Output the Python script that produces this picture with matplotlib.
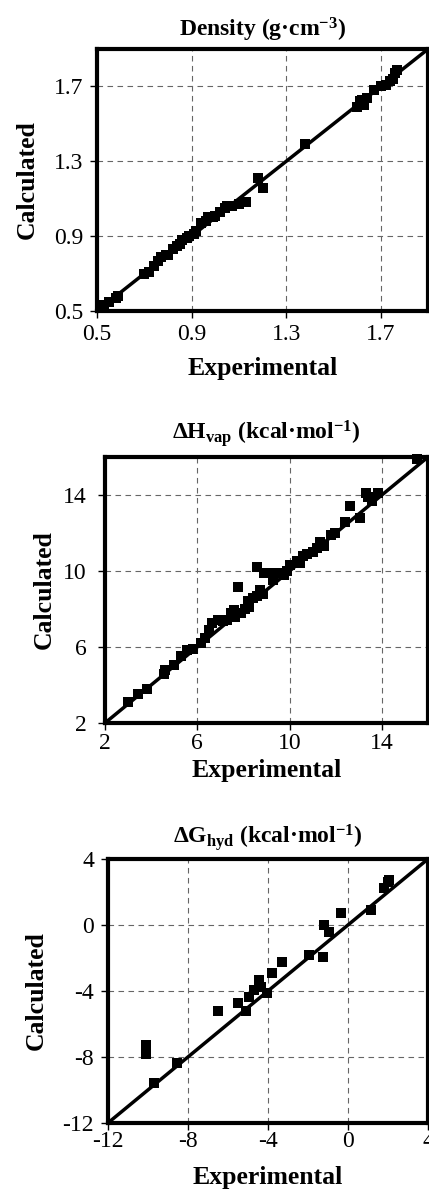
import numpy as np
import matplotlib
matplotlib.use("Agg")
import matplotlib.pyplot as plt

plt.rcParams['font.family'] = ['Liberation Serif', 'DejaVu Serif']
plt.rcParams['mathtext.fontset'] = 'custom'
plt.rcParams['mathtext.rm'] = 'Liberation Serif:bold'
plt.rcParams['mathtext.bf'] = 'Liberation Serif:bold'
plt.rcParams['mathtext.it'] = 'Liberation Serif:bold'
plt.rcParams['mathtext.default'] = 'bf'

# Density (g/cm3): experimental vs calculated
dens_exp = [0.53, 0.55, 0.58, 0.59, 0.70, 0.72, 0.74, 0.76, 0.77, 0.79, 0.80, 0.82,
            0.84, 0.85, 0.86, 0.88, 0.89, 0.91, 0.92, 0.94, 0.96, 0.97, 0.99, 1.00,
            1.02, 1.04, 1.05, 1.07, 1.10, 1.13, 1.18, 1.20, 1.38, 1.60, 1.61, 1.62,
            1.63, 1.64, 1.67, 1.70, 1.72, 1.74, 1.75, 1.76, 1.77]
dens_calc = [0.53, 0.55, 0.57, 0.58, 0.70, 0.71, 0.74, 0.77, 0.79, 0.80, 0.80, 0.83,
             0.85, 0.86, 0.88, 0.89, 0.90, 0.91, 0.93, 0.97, 0.98, 1.00, 1.00, 1.01,
             1.03, 1.05, 1.06, 1.06, 1.07, 1.08, 1.21, 1.16, 1.39, 1.59, 1.62, 1.63,
             1.60, 1.64, 1.68, 1.70, 1.71, 1.73, 1.74, 1.77, 1.79]

# Heat of vaporization (kcal/mol)
hvap_exp = [3.0, 3.45, 3.8, 4.55, 4.6, 5.0, 5.3, 5.55, 5.8, 6.15, 6.35, 6.5, 6.65,
            6.9, 7.1, 7.3, 7.45, 7.6, 7.65, 7.75, 7.9, 8.05, 8.2, 8.25, 8.4, 8.6,
            8.7, 8.85, 8.6, 8.9, 9.15, 9.3, 9.45, 9.75, 9.9, 10.0, 10.3, 10.45,
            10.6, 10.75, 11.0, 11.2, 11.3, 11.5, 11.8, 11.95, 12.4, 12.6, 13.05,
            13.3, 13.4, 13.55, 13.85, 15.5]
hvap_calc = [3.1, 3.55, 3.8, 4.6, 4.8, 5.05, 5.5, 5.85, 5.9, 6.2, 6.45, 6.9, 7.25,
             7.4, 7.35, 7.4, 7.8, 7.95, 7.6, 9.15, 7.8, 8.0, 8.4, 8.1, 8.6, 8.7,
             9.0, 8.8, 10.2, 9.9, 9.9, 9.5, 9.9, 9.8, 10.0, 10.3, 10.5, 10.4,
             10.8, 10.9, 11.0, 11.2, 11.5, 11.3, 11.9, 12.0, 12.6, 13.4, 12.8,
             14.1, 13.9, 13.7, 14.1, 15.9]

# Hydration free energy (kcal/mol)
ghyd_exp = [-10.1, -10.1, -9.7, -8.55, -6.5, -5.5, -5.1, -4.95, -4.7, -4.45, -4.37,
            -4.03, -3.78, -3.28, -1.94, -1.27, -1.19, -0.94, -0.35, 1.15, 1.79,
            1.99, 2.07]
ghyd_calc = [-7.27, -7.82, -9.6, -8.38, -5.21, -4.71, -5.19, -4.34, -3.94, -3.33,
             -3.74, -4.14, -2.93, -2.22, -1.82, -1.92, 0.0, -0.4, 0.71, 0.91, 2.22,
             2.63, 2.73]

panels = [
    dict(x=dens_exp, y=dens_calc, lim=[0.5, 1.9], ticks=[0.5, 0.9, 1.3, 1.7],
         labels=['0.5', '0.9', '1.3', '1.7'],
         title='Density (g·cm$^{-3}$)',
         rect=[0.226, 0.7397, 0.772, 0.2193],
         xpad=4.3, ypad=5, tpad=9, xlab=-0.176, ylab=-0.175),
    dict(x=hvap_exp, y=hvap_calc, lim=[2, 16], ticks=[2, 6, 10, 14],
         labels=['2', '6', '10', '14'],
         title='ΔH$_{vap}$ (kcal·mol$^{-1}$)',
         rect=[0.2448, 0.395, 0.753, 0.2226],
         xpad=2.5, ypad=8, tpad=13, xlab=-0.135, ylab=-0.152),
    dict(x=ghyd_exp, y=ghyd_calc, lim=[-12, 4], ticks=[-12, -8, -4, 0, 4],
         labels=['-12', '-8', '-4', '0', '4'],
         title='ΔG$_{hyd}$ (kcal·mol$^{-1}$)',
         rect=[0.2517, 0.0603, 0.746, 0.2209],
         xpad=1, ypad=5, tpad=11, xlab=-0.163, ylab=-0.1875),
]

fig = plt.figure(figsize=(4.29, 11.95), dpi=100)

for p in panels:
    ax = fig.add_axes(p['rect'])
    ax.plot(p['lim'], p['lim'], color='black', linewidth=2.5, zorder=3)
    ax.scatter(p['x'], p['y'], marker='s', s=62, color='black', zorder=4,
               clip_on=False, linewidths=0)
    ax.set_xlim(p['lim'])
    ax.set_ylim(p['lim'])
    ax.set_xticks(p['ticks'])
    ax.set_yticks(p['ticks'])
    ax.set_xticklabels(p['labels'])
    ax.set_yticklabels(p['labels'])
    ax.grid(True, linestyle=(0, (5, 4)), color='#666666', linewidth=0.8)
    ax.set_axisbelow(True)
    for s in ax.spines.values():
        s.set_linewidth(3)
    ax.tick_params(direction='out', length=5, width=1, labelsize=17)
    ax.tick_params(axis='x', pad=p['xpad'])
    ax.tick_params(axis='y', pad=p['ypad'])
    ax.set_title(p['title'], fontsize=17, fontweight='bold', pad=p['tpad'])
    ax.set_xlabel('Experimental', fontsize=18.5, fontweight='bold')
    ax.set_ylabel('Calculated', fontsize=18.5, fontweight='bold')
    ax.xaxis.set_label_coords(0.5, p['xlab'])
    ax.yaxis.set_label_coords(p['ylab'], 0.5)

fig.savefig('out.png', dpi=100)
